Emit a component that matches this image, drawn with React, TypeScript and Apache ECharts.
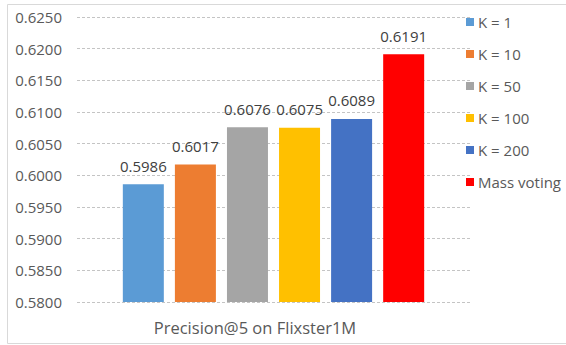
import React, { useEffect, useRef } from "react";
import * as echarts from "echarts";

// Precision@5 on Flixster1M for several K values and mass voting
const category = ["Precision@5 on Flixster1M"];
const seriesNames = ["K = 1", "K = 10", "K = 50", "K = 100", "K = 200", "Mass voting"];
const seriesValues = [0.5986, 0.6017, 0.6076, 0.6075, 0.6089, 0.6191];
const seriesColors = ["#5B9BD5", "#ED7D31", "#A5A5A5", "#FFC000", "#4472C4", "#FF0000"];
const yMin = 0.58;
const yMax = 0.625;
const yStep = 0.005;

const FONT = "'Open Sans', 'Liberation Sans', sans-serif";

export default function App() {
  const ref = useRef<HTMLDivElement>(null);

  useEffect(() => {
    if (!ref.current) return;
    const chart = echarts.init(ref.current, null, { renderer: "svg" });

    const series = seriesNames.map((name, i) => ({
      name,
      type: "bar" as const,
      data: [seriesValues[i]],
      barWidth: 41,
      barGap: "27%",
      itemStyle: { color: seriesColors[i] },
      label: {
        show: true,
        position: "top" as const,
        distance: 11,
        formatter: (p: any) => Number(p.value).toFixed(4),
        color: "#404040",
        fontSize: 15,
        fontFamily: FONT,
      },
    }));

    chart.setOption({
      animation: false,
      backgroundColor: "#ffffff",
      grid: { left: 77, right: 96, top: 17, bottom: 43, containLabel: false },
      legend: {
        orient: "vertical",
        left: 466,
        top: 14,
        padding: 0,
        itemWidth: 8,
        itemHeight: 8,
        itemGap: 16,
        icon: "rect",
        data: seriesNames,
        textStyle: { color: "#595959", fontSize: 15, fontFamily: FONT, lineHeight: 16, padding: [0, 0, 0, -1] },
      },
      xAxis: {
        type: "category",
        data: category,
        axisLine: { show: false },
        axisTick: { show: false },
        axisLabel: {
          color: "#595959",
          fontSize: 16.5,
          fontFamily: FONT,
          margin: 17,
          padding: [0, 37, 0, 0],
        },
      },
      yAxis: {
        type: "value",
        min: yMin,
        max: yMax,
        interval: yStep,
        axisLine: { show: false },
        axisTick: { show: false },
        axisLabel: {
          color: "#595959",
          fontSize: 15,
          fontFamily: FONT,
          margin: 15,
          formatter: (v: number) => v.toFixed(4),
        },
        splitLine: { lineStyle: { color: "#c4c4c4", type: [3, 2], width: 1 } },
      },
      graphic: [
        {
          type: "polyline",
          shape: { points: [[600, 4.5], [7.5, 4.5], [7.5, 343.5], [600, 343.5]] },
          style: { stroke: "#d9d9d9", fill: "none", lineWidth: 1 },
          silent: true,
        },
      ],
      series,
    });

    return () => chart.dispose();
  }, []);

  return (
    <div
      ref={ref}
      style={{ position: "absolute", left: 0, top: 0, width: 566, height: 345 }}
    />
  );
}
